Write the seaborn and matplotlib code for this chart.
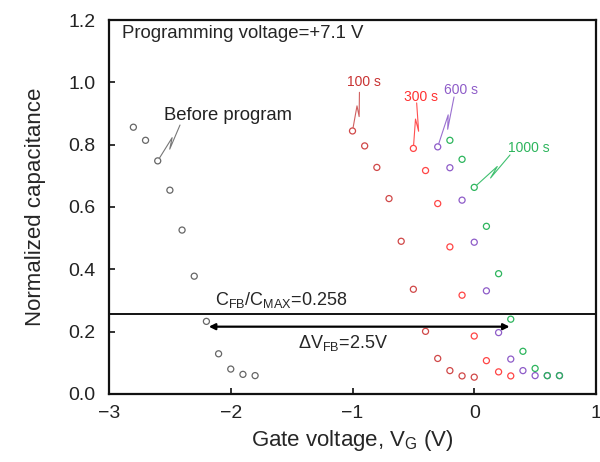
import numpy as np
import pandas as pd
import matplotlib
matplotlib.use('Agg')
import matplotlib.pyplot as plt
import seaborn as sns

# Gate voltage (V) and normalized capacitance for each programming time
before_v = [-2.8, -2.7, -2.6, -2.5, -2.4, -2.3, -2.2, -2.1, -2.0, -1.9, -1.8]
before_c = [0.856, 0.814, 0.748, 0.654, 0.526, 0.378, 0.233, 0.129, 0.080, 0.063, 0.059]

t100_v = [-1.0, -0.9, -0.8, -0.7, -0.6, -0.5, -0.4, -0.3, -0.2, -0.1, 0.0]
t100_c = [0.844, 0.796, 0.727, 0.627, 0.490, 0.336, 0.201, 0.114, 0.075, 0.058, 0.054]

t300_v = [-0.5, -0.4, -0.3, -0.2, -0.1, 0.0, 0.1, 0.2, 0.3]
t300_c = [0.788, 0.717, 0.611, 0.472, 0.317, 0.186, 0.107, 0.071, 0.058]

t600_v = [-0.3, -0.2, -0.1, 0.0, 0.1, 0.2, 0.3, 0.4, 0.5, 0.6, 0.7]
t600_c = [0.793, 0.726, 0.622, 0.487, 0.331, 0.197, 0.112, 0.075, 0.059, 0.059, 0.059]

t1000_v = [-0.2, -0.1, 0.0, 0.1, 0.2, 0.3, 0.4, 0.5, 0.6, 0.7]
t1000_c = [0.814, 0.753, 0.663, 0.538, 0.386, 0.240, 0.137, 0.082, 0.059, 0.059]

series_names = ['Before program', '100 s', '300 s', '600 s', '1000 s']
series_colors = ['#666666', '#D04848', '#FF4545', '#8E5CC8', '#2DB55D']

cfb_ratio = 0.258
dvfb = 2.5

frames = []
for name, v, c in zip(series_names,
                      [before_v, t100_v, t300_v, t600_v, t1000_v],
                      [before_c, t100_c, t300_c, t600_c, t1000_c]):
    frames.append(pd.DataFrame({'V': v, 'C': c, 'series': name}))
df = pd.concat(frames, ignore_index=True)

sns.set_style('ticks')
plt.rcParams['font.family'] = ['Liberation Sans', 'DejaVu Sans']
plt.rcParams['mathtext.fontset'] = 'custom'
plt.rcParams['mathtext.rm'] = 'Liberation Sans'
plt.rcParams['mathtext.it'] = 'Liberation Sans:italic'
plt.rcParams['xtick.direction'] = 'in'
plt.rcParams['ytick.direction'] = 'in'

fig = plt.figure(figsize=(6.0, 4.62), dpi=100)
ax = fig.add_axes([0.1817, 0.1472, 0.8116, 0.8095])

sns.scatterplot(data=df, x='V', y='C', hue='series', hue_order=series_names,
                palette=series_colors, s=19, linewidth=0.9, legend=False, ax=ax)
# hollow circles
for coll in ax.collections:
    fc = coll.get_facecolors()
    coll.set_edgecolors(fc)
    coll.set_facecolors('none')

ax.set_xlim(-3, 1)
ax.set_ylim(0, 1.2)
ax.set_xticks([-3, -2, -1, 0, 1])
ax.set_xticklabels(['\u22123', '\u22122', '\u22121', '0', '1'])
ax.set_yticks(np.arange(0, 1.21, 0.2))
ax.yaxis.set_major_formatter(matplotlib.ticker.FormatStrFormatter('%.1f'))
ax.tick_params(axis='both', labelsize=14, length=4, width=1.3, colors='#222222',
               top=False, right=False)
ax.tick_params(axis='x', pad=8)
ax.tick_params(axis='y', pad=10)
for sp in ax.spines.values():
    sp.set_linewidth(1.6)
    sp.set_color('#111111')

ax.set_xlabel('Gate voltage, V$_{\\rm G}$ (V)', fontsize=16, labelpad=4)
ax.set_ylabel('Normalized capacitance', fontsize=16, labelpad=16)

# flat-band line and shift arrow
ax.axhline(cfb_ratio, color='black', lw=1.3)
ax.annotate('', xy=(0.29, 0.216), xytext=(-2.18, 0.216),
            arrowprops=dict(arrowstyle='<|-|>', lw=1.6, color='black',
                            mutation_scale=9, shrinkA=0, shrinkB=0))
ax.text(-2.13, 0.30, 'C$_{\\rm FB}$/C$_{\\rm MAX}$=%.3f' % cfb_ratio,
        fontsize=13, va='center', ha='left')
ax.text(-1.45, 0.164, '\u0394V$_{\\rm FB}$=%.1fV' % dvfb,
        fontsize=13, va='center', ha='left')
ax.text(-2.89, 1.158, 'Programming voltage=+7.1 V', fontsize=13.4,
        va='center', ha='left')

# series labels with zig-zag leaders
label_pos = [(-2.55, 0.895, 'left'), (-0.91, 1.0, 'center'), (-0.44, 0.953, 'center'),
             (-0.11, 0.975, 'center'), (0.45, 0.79, 'center')]
label_size = [13.3, 10, 10, 10, 10]
leader_idx = [2, 0, 0, 0, 2]
leader_end = [(-2.417, 0.863), (-0.943, 0.968), (-0.473, 0.934), (-0.166, 0.953), (0.294, 0.767)]
series_v = [before_v, t100_v, t300_v, t600_v, t1000_v]
series_c = [before_c, t100_c, t300_c, t600_c, t1000_c]
text_colors = ['#222222', '#C83232', '#FF3030', '#8E5CC8', '#2DB55D']
leader_colors = ['#777777', '#D06060', '#FF5050', '#9A70D0', '#40C070']

for i in range(5):
    lx, ly, ha = label_pos[i]
    ax.text(lx, ly, series_names[i], fontsize=label_size[i], color=text_colors[i],
            ha=ha, va='center')
    p0 = ax.transData.transform((series_v[i][leader_idx[i]], series_c[i][leader_idx[i]]))
    p1 = ax.transData.transform(leader_end[i])
    p0 = np.array(p0, float)
    p1 = np.array(p1, float)
    d = p1 - p0
    u = d / np.hypot(*d)
    p0 = p0 + u * 3
    d = p1 - p0
    perp = np.array([d[1], -d[0]]) / np.hypot(*d)
    a = p0 + 0.62 * d
    b = p0 + 0.34 * d + perp * 4
    pts = np.vstack([p0, a, b, p1])
    pts = ax.transData.inverted().transform(pts)
    ax.plot(pts[:, 0], pts[:, 1], color=leader_colors[i], lw=0.8)

fig.savefig('out.png', dpi=100)
